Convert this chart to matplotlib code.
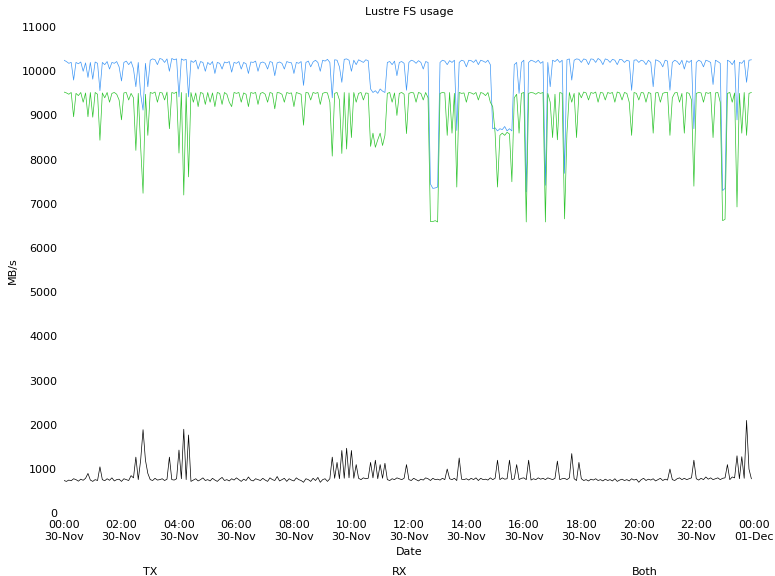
import pandas as pd
import numpy as np
import matplotlib
matplotlib.use("Agg")
import matplotlib.pyplot as plt
import matplotlib.dates as mdates
matplotlib.rc('font', size=8)

# 5-minute samples over 30-Nov (one row = one hour)
times = pd.date_range("2012-11-30 00:00", periods=288, freq="5min")

tx = [740, 720, 750, 735, 780, 760, 725, 770, 745, 790, 900, 750,
      720, 760, 740, 1050, 760, 735, 780, 745, 800, 730, 760, 770,
      720, 780, 760, 740, 850, 800, 1270, 760, 1200, 1890, 1200, 900,
      760, 740, 790, 750, 760, 780, 740, 770, 1270, 760, 750, 780,
      1430, 780, 1900, 760, 1770, 720, 750, 780, 730, 760, 800, 740,
      760, 730, 790, 750, 720, 770, 810, 740, 760, 730, 780, 750,
      800, 760, 720, 770, 740, 820, 750, 730, 780, 760, 740, 790,
      750, 720, 800, 760, 740, 830, 730, 760, 790, 720, 780, 750,
      730, 800, 760, 740, 700, 780, 760, 720, 790, 740, 810, 700,
      760, 780, 720, 780, 1270, 790, 1150, 780, 1420, 790, 1470, 800,
      1420, 790, 1100, 790, 760, 800, 780, 790, 1150, 800, 1200, 780,
      1100, 790, 1130, 760, 740, 780, 760, 800, 780, 760, 790, 1100,
      760, 740, 790, 760, 730, 770, 750, 800, 780, 740, 790, 760,
      770, 750, 790, 760, 1000, 780, 760, 790, 740, 1250, 770, 760,
      780, 750, 790, 760, 800, 740, 790, 760, 770, 750, 800, 760,
      790, 1200, 760, 800, 770, 780, 1200, 760, 780, 1100, 760, 790,
      800, 760, 1200, 750, 780, 760, 800, 770, 790, 760, 800, 780,
      760, 790, 1180, 760, 780, 790, 760, 800, 1350, 780, 740, 1150,
      780, 740, 760, 730, 770, 750, 780, 740, 760, 730, 770, 740,
      760, 730, 780, 720, 750, 770, 740, 760, 730, 780, 750, 770,
      700, 760, 790, 740, 770, 750, 780, 730, 760, 790, 740, 770,
      750, 1000, 760, 740, 780, 800, 760, 790, 760, 780, 800, 1200,
      780, 750, 790, 760, 820, 770, 800, 760, 780, 800, 760, 790,
      800, 1100, 760, 820, 800, 1300, 780, 1280, 790, 2100, 1000, 780]

rx = [10250, 10220, 10180, 10200, 9800, 10200, 10170, 10210, 10000, 10190, 9860, 10200,
      9820, 10210, 10180, 9560, 10200, 10150, 10220, 10050, 10200, 10180, 10220, 10100,
      9780, 10200, 10230, 10150, 10220, 10060, 9650, 10200, 9480, 9120, 10180, 9650,
      10250, 10280, 10260, 10150, 10290, 10270, 10200, 10280, 10000, 10290, 10260, 10280,
      9420, 10280, 10250, 10270, 9420, 10240, 10200, 10250, 10050, 10220, 10200, 10000,
      10200, 10150, 10220, 9950, 10200, 10180, 10050, 10210, 10190, 10220, 9980, 10200,
      10180, 10220, 10050, 10200, 10170, 9950, 10210, 10200, 10230, 10000, 10190, 10210,
      10180, 10050, 10220, 10200, 9900, 10190, 10210, 10180, 10050, 10220, 10200, 10190,
      9950, 10200, 10180, 10220, 9680, 10200, 10230, 10100, 10210, 10250, 10200, 10000,
      10250, 10230, 10270, 10200, 9400, 10260, 10250, 10100, 9750, 10270, 10280, 10250,
      10000, 10250, 10150, 10260, 10230, 10200, 10260, 10240, 9600, 9520, 9560, 9500,
      9600, 9550, 9520, 10200, 10220, 10150, 10230, 9900, 10200, 10220, 10180, 9570,
      10200, 10250, 10230, 10180, 10240, 10200, 10050, 10220, 10200, 7450, 7350, 7360,
      7380, 10200, 10250, 10230, 10150, 10240, 10200, 10250, 8660, 10200, 10250, 10230,
      10100, 10250, 10240, 10200, 10260, 10150, 10250, 10230, 10200, 10250, 10150, 8700,
      8720, 8650, 8700, 8680, 8750, 8650, 8700, 8650, 10150, 10200, 9500, 10200,
      10250, 7270, 10200, 10250, 10230, 10200, 10250, 10180, 10220, 7420, 10200, 9650,
      10250, 10220, 10270, 10200, 10250, 7690, 10260, 10280, 9800, 10250, 10280, 10270,
      10200, 10280, 10260, 10150, 10280, 10270, 10200, 10290, 10250, 10150, 10280, 10260,
      10200, 10270, 10250, 10150, 10270, 10260, 10200, 10250, 10230, 9570, 10250, 10260,
      10200, 10250, 10230, 10150, 10250, 10200, 9650, 10260, 10240, 10200, 10100, 10250,
      10230, 9570, 10200, 10250, 10220, 10150, 10250, 10050, 10240, 10200, 10250, 8700,
      10200, 10250, 10220, 10100, 10250, 10230, 10200, 9700, 10250, 10220, 10180, 7300,
      7350, 10250, 10220, 10150, 10250, 8900, 10200, 10180, 10250, 9750, 10250, 10260]

both = [9530, 9510, 9480, 9520, 8970, 9500, 9450, 9520, 9300, 9510, 8970, 9520,
        8960, 9520, 9480, 8440, 9510, 9400, 9520, 9300, 9500, 9520, 9480, 9350,
        8900, 9510, 9520, 9350, 9500, 9400, 8210, 9500, 8290, 7240, 9480, 8550,
        9520, 9500, 9530, 9300, 9520, 9510, 9350, 9530, 8700, 9520, 9500, 9530,
        8150, 9520, 7200, 9500, 7610, 9520, 9300, 9510, 9200, 9520, 9500, 9250,
        9520, 9300, 9510, 9200, 9520, 9500, 9250, 9520, 9480, 9300, 9200, 9520,
        9500, 9520, 9300, 9510, 9480, 9200, 9520, 9500, 9520, 9250, 9500, 9520,
        9480, 9300, 9520, 9500, 9150, 9520, 9510, 9480, 9300, 9520, 9500, 9510,
        9200, 9520, 9500, 9480, 8780, 9520, 9510, 9350, 9520, 9500, 9520, 9250,
        9500, 9520, 9510, 9300, 8080, 9500, 9520, 9350, 8140, 9520, 8240, 9510,
        8500, 9520, 9300, 9500, 9520, 9350, 9510, 9500, 8300, 8600, 8280, 8450,
        8600, 8320, 8550, 9500, 9520, 9300, 9510, 9000, 9500, 9520, 9480, 8590,
        9500, 9520, 9510, 9300, 9520, 9500, 9350, 9520, 9400, 6600, 6600, 6620,
        6590, 9500, 9520, 9510, 8550, 9520, 8600, 9500, 7380, 9520, 9500, 9510,
        9300, 9520, 9510, 9480, 9520, 9350, 9520, 9500, 9450, 9520, 9300, 9200,
        8600, 7380, 8550, 8600, 8550, 8620, 8580, 7500, 9400, 9480, 8600, 9500,
        9520, 6590, 9500, 9520, 9510, 9480, 9520, 9500, 9520, 6590, 9500, 9300,
        8500, 9480, 8450, 9520, 9500, 6660, 8600, 9520, 9300, 9500, 8500, 9520,
        9400, 9530, 9510, 9350, 9520, 9500, 9530, 9300, 9520, 9510, 9350, 9520,
        9500, 9520, 9300, 9530, 9510, 9350, 9520, 9500, 9300, 8550, 9520, 9500,
        9350, 9520, 9510, 9300, 9520, 9500, 8600, 9510, 9520, 9300, 9500, 9520,
        9520, 8550, 9400, 9510, 9520, 9300, 9500, 8600, 9520, 9500, 9350, 7400,
        9500, 9520, 9510, 9300, 9520, 9500, 9520, 8500, 9510, 9520, 9300, 6620,
        6650, 9500, 9520, 9300, 9510, 6930, 9500, 8600, 9520, 8550, 9500, 9520]

fig = plt.figure(figsize=(7.75, 5.76), dpi=100)
ax = fig.add_axes([0.0826, 0.109, 0.890, 0.844])

ax.plot(times, tx, color='black', lw=0.5, label='TX')
ax.plot(times, rx, color='#3d96f5', lw=0.5, label='RX')
ax.plot(times, both, color='#2ec42e', lw=0.5, label='Both')

ax.set_xlim(pd.Timestamp("2012-11-30 00:00"), pd.Timestamp("2012-12-01 00:00"))
ax.set_ylim(0, 11000)
ax.set_yticks(np.arange(0, 11001, 1000))
ax.xaxis.set_major_locator(mdates.HourLocator(interval=2))
ax.xaxis.set_major_formatter(mdates.DateFormatter('%H:%M\n%d-%b'))

for s in ax.spines.values():
    s.set_visible(False)
ax.tick_params(length=0, pad=5)

ax.set_title("Lustre FS usage", fontsize=8, pad=9)
ax.set_xlabel("Date", fontsize=8)
ax.set_ylabel("MB/s", fontsize=8, labelpad=3)

# legend labels along the bottom (no swatches in the original)
fig.text(150/775, 0.007, "TX", ha='center', va='center', fontsize=8)
fig.text(400/775, 0.007, "RX", ha='center', va='center', fontsize=8)
fig.text(645/775, 0.007, "Both", ha='center', va='center', fontsize=8)

fig.savefig("out.png", dpi=100)
